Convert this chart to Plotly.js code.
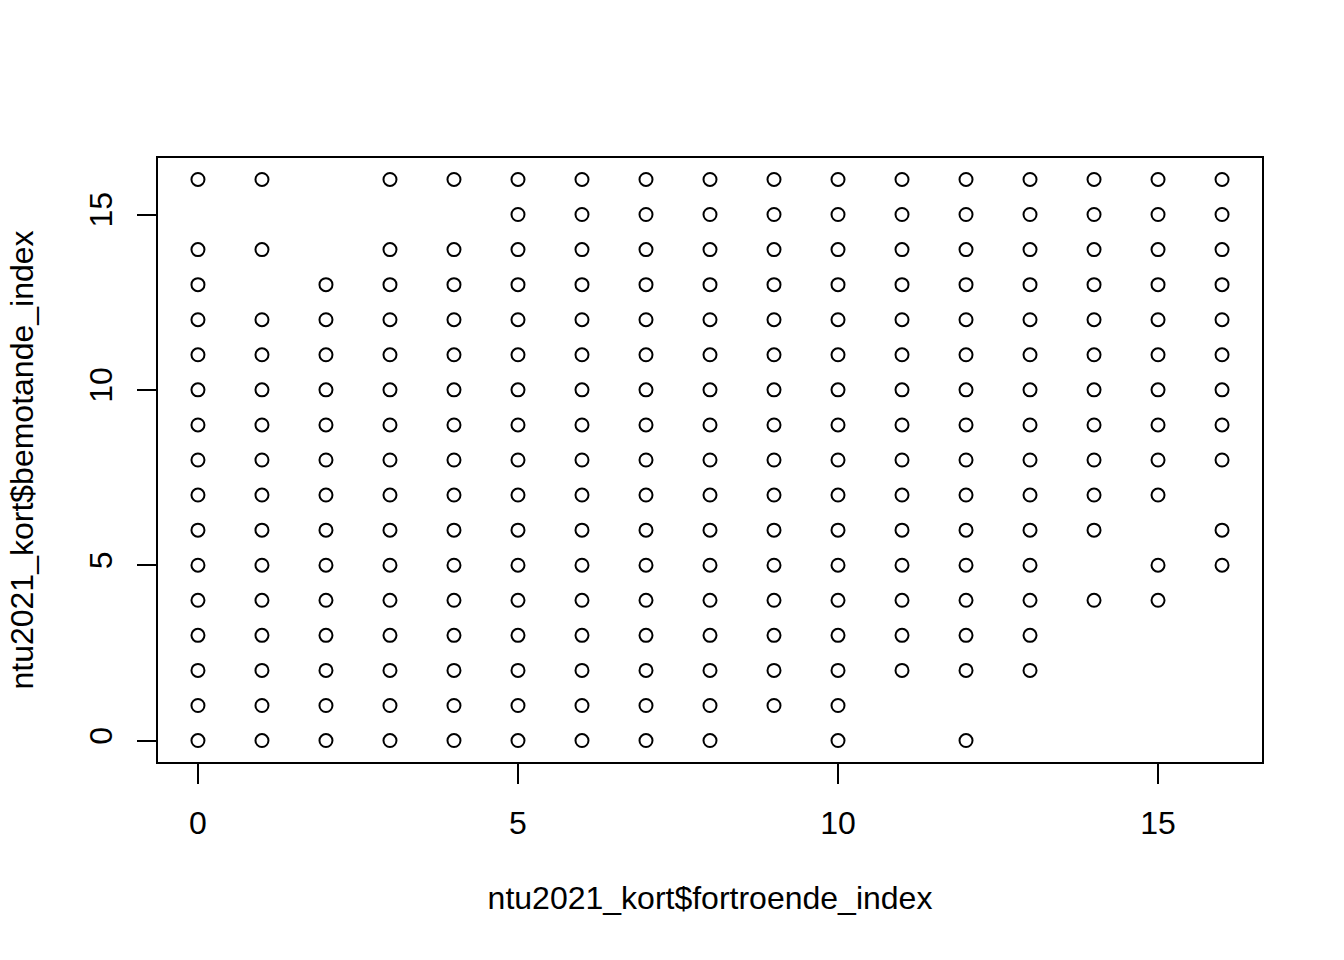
<!DOCTYPE html>
<html>
<head>
<meta charset="utf-8">
<script src="https://cdn.plot.ly/plotly-3.0.1.min.js"></script>
<style>html,body{margin:0;padding:0;background:#fff;}#chart{width:1344px;height:960px;}</style>
</head>
<body>
<div id="chart"></div>
<script>
// fortroende_index value for each column of points
const fortroende = [0,1,2,3,4,5,6,7,8,9,10,11,12,13,14,15,16];
// bemotande_index values observed in each column
const bemotande = [
  [16,14,13,12,11,10,9,8,7,6,5,4,3,2,1,0],
  [16,14,12,11,10,9,8,7,6,5,4,3,2,1,0],
  [13,12,11,10,9,8,7,6,5,4,3,2,1,0],
  [16,14,13,12,11,10,9,8,7,6,5,4,3,2,1,0],
  [16,14,13,12,11,10,9,8,7,6,5,4,3,2,1,0],
  [16,15,14,13,12,11,10,9,8,7,6,5,4,3,2,1,0],
  [16,15,14,13,12,11,10,9,8,7,6,5,4,3,2,1,0],
  [16,15,14,13,12,11,10,9,8,7,6,5,4,3,2,1,0],
  [16,15,14,13,12,11,10,9,8,7,6,5,4,3,2,1,0],
  [16,15,14,13,12,11,10,9,8,7,6,5,4,3,2,1],
  [16,15,14,13,12,11,10,9,8,7,6,5,4,3,2,1,0],
  [16,15,14,13,12,11,10,9,8,7,6,5,4,3,2],
  [16,15,14,13,12,11,10,9,8,7,6,5,4,3,2,0],
  [16,15,14,13,12,11,10,9,8,7,6,5,4,3,2],
  [16,15,14,13,12,11,10,9,8,7,6,4],
  [16,15,14,13,12,11,10,9,8,7,5,4],
  [16,15,14,13,12,11,10,9,8,6,5]
];
const xTicks = [0,5,10,15];
const yTicks = [0,5,10,15];
const xLabel = 'ntu2021_kort$fortroende_index';
const yLabel = 'ntu2021_kort$bemotande_index';

const xs = [], ys = [];
fortroende.forEach((xv, i) => bemotande[i].forEach(yv => { xs.push(xv); ys.push(yv); }));

const FONT = 'Liberation Sans, Arial, sans-serif';
const FS = 32;
const data = [{
  x: xs, y: ys, type: 'scatter', mode: 'markers',
  marker: {symbol: 'circle-open', size: 13, color: '#000', line: {color: '#000', width: 2}},
  hoverinfo: 'x+y'
}];
const layout = {
  width: 1344, height: 960,
  margin: {l: 157, r: 81, t: 157, b: 197},
  paper_bgcolor: '#fff', plot_bgcolor: '#fff',
  showlegend: false,
  font: {family: FONT, color: '#000', size: FS},
  xaxis: {
    range: [-0.64, 16.64], tickvals: xTicks, ticktext: xTicks.map(String),
    showgrid: false, zeroline: false, showline: false,
    ticks: 'outside', ticklen: 20, tickwidth: 2, tickcolor: '#000',
    tickfont: {family: FONT, size: FS, color: '#000'},
    ticklabelstandoff: 12,
    title: {text: xLabel, font: {family: FONT, size: FS, color: '#000'}, standoff: 46}
  },
  yaxis: {
    range: [-0.64, 16.64], tickvals: yTicks, ticktext: yTicks.map(String),
    showgrid: false, zeroline: false, showline: false,
    ticks: 'outside', ticklen: 19, tickwidth: 2, tickcolor: '#000',
    tickangle: -90,
    tickfont: {family: FONT, size: FS, color: '#000'},
    ticklabelstandoff: 12,
    title: {text: yLabel, font: {family: FONT, size: FS, color: '#000'}, standoff: 40}
  },
  shapes: [
    {type: 'rect', xref: 'paper', yref: 'paper', x0: 0, x1: 1, y0: 0, y1: 1, line: {color: '#000', width: 2}},
    {type: 'line', xref: 'x', yref: 'paper', x0: xTicks[0], x1: xTicks[xTicks.length-1], y0: 0, y1: 0, line: {color: '#000', width: 2}},
    {type: 'line', xref: 'paper', yref: 'y', x0: 0, x1: 0, y0: yTicks[0], y1: yTicks[yTicks.length-1], line: {color: '#000', width: 2}}
  ]
};
Plotly.newPlot('chart', data, layout, {displayModeBar: false, staticPlot: false});
</script>
</body>
</html>
